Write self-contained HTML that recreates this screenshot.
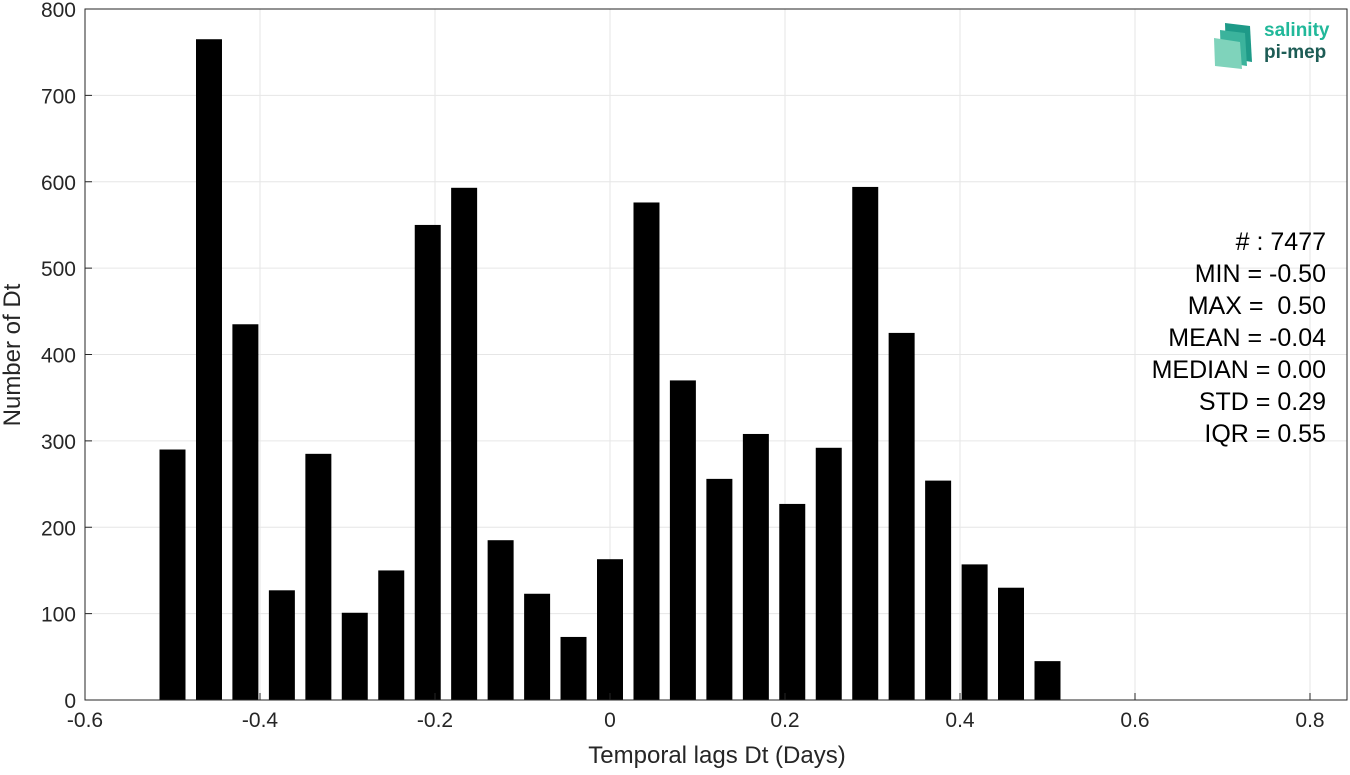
<!DOCTYPE html>
<html><head><meta charset="utf-8"><style>
body{margin:0;background:#fff;width:1350px;height:770px;overflow:hidden}
text{font-family:"Liberation Sans","DejaVu Sans",sans-serif}
</style></head><body>
<svg id="chart" width="1350" height="770">
<g id="grid"></g>
<g id="bars"></g>
<rect x="85" y="9" width="1262" height="691" fill="none" stroke="#262626" stroke-width="1"/>
<g id="xt"></g><g id="yt"></g>
<text x="717" y="763" font-size="24" fill="#262626" text-anchor="middle">Temporal lags Dt (Days)</text>
<text transform="translate(20,355) rotate(-90)" font-size="24" fill="#262626" text-anchor="middle">Number of Dt</text>
<g font-size="25" fill="#000" text-anchor="end">
<text x="1326" y="250">#&#160;:&#160;7477</text>
<text x="1326" y="282">MIN = -0.50</text>
<text x="1326" y="314">MAX = &#160;0.50</text>
<text x="1326" y="346">MEAN = -0.04</text>
<text x="1326" y="378">MEDIAN = 0.00</text>
<text x="1326" y="410">STD = 0.29</text>
<text x="1326" y="442">IQR = 0.55</text>
</g>
<g>
<polygon points="1225,23 1250,26 1252,62 1226,58" fill="#1e9a88"/>
<polygon points="1220,30 1245,33 1247,66 1221,62" fill="#3bb39c"/>
<polygon points="1214,38 1240,42 1242,69 1215,66" fill="#7fd3bb"/>
<text x="1264" y="36" font-size="19" font-weight="bold" fill="#21b89a">salinity</text>
<text x="1264" y="58" font-size="19" font-weight="bold" fill="#1d5c55">pi-mep</text>
</g>
</svg>
<script>
const binCenters=[-0.5,-0.4583,-0.4167,-0.375,-0.3333,-0.2917,-0.25,-0.2083,-0.1667,-0.125,-0.0833,-0.0417,0,0.0417,0.0833,0.125,0.1667,0.2083,0.25,0.2917,0.3333,0.375,0.4167,0.4583,0.5];
const counts=[290,765,435,127,285,101,150,550,593,185,123,73,163,576,370,256,308,227,292,594,425,254,157,130,45];
const xTicks=[-0.6,-0.4,-0.2,0,0.2,0.4,0.6,0.8];
const xTickLabels=["-0.6","-0.4","-0.2","0","0.2","0.4","0.6","0.8"];
const yTicks=[0,100,200,300,400,500,600,700,800];
const NS="http://www.w3.org/2000/svg";
const X=v=>610+v*875, Y=v=>700-v*0.86375;
const barW=0.0297*875;
function mk(t,a,p){const e=document.createElementNS(NS,t);for(const k in a)e.setAttribute(k,a[k]);p.appendChild(e);return e;}
const g=document.getElementById('grid'),b=document.getElementById('bars'),xt=document.getElementById('xt'),yt=document.getElementById('yt');
xTicks.forEach((v,i)=>{
 const l=mk('line',{x1:X(v),x2:X(v),y1:9,y2:700,stroke:'#e6e6e6'},g);
 
 
 mk('line',{x1:X(v),x2:X(v),y1:700,y2:693,stroke:'#262626'},xt);
 const t=mk('text',{x:X(v),y:727,'font-size':21,fill:'#262626','text-anchor':'middle'},xt);
 t.textContent=xTickLabels[i];
 
 
});
yTicks.forEach(v=>{
 const l=mk('line',{x1:85,x2:1347,y1:Y(v),y2:Y(v),stroke:'#e6e6e6'},g);
 
 
 mk('line',{x1:85,x2:92,y1:Y(v),y2:Y(v),stroke:'#262626'},yt);
 const t=mk('text',{x:76,y:Y(v)+8,'font-size':21,fill:'#262626','text-anchor':'end'},yt);
 t.textContent=v;
 
 
});
binCenters.forEach((c,i)=>{
 const r=mk('rect',{x:X(c)-barW/2,y:Y(counts[i]),width:barW,height:Y(0)-Y(counts[i]),fill:'#000'},b);
 
 
});
</script>
</body></html>
